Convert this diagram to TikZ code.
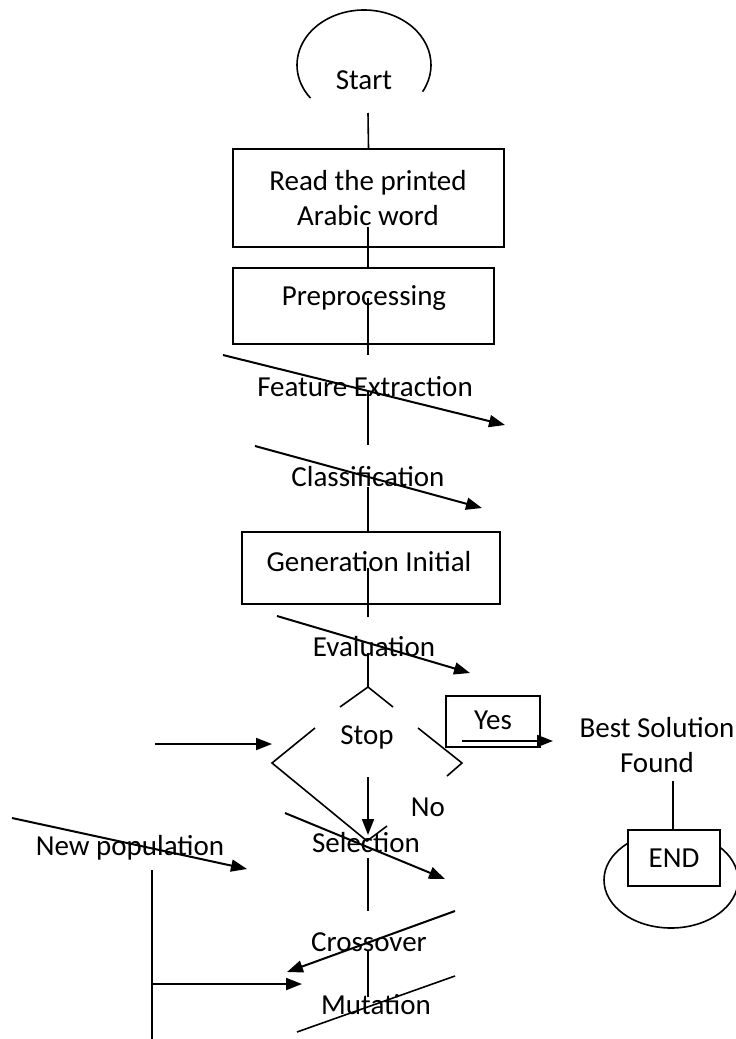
\documentclass[tikz,border=0pt]{standalone}
\usepackage{fontspec}
\setmainfont{Carlito}
\usetikzlibrary{arrows.meta}
\usetikzlibrary{positioning}

\begin{document}
\begin{tikzpicture}[x=1pt,y=-1pt,font=\fontsize{29}{35}\selectfont,
		box/.style={draw,rectangle,line width=1.6pt,fill=white,inner sep=0pt},
		lbl/.style={inner sep=0pt,align=center},
		link/.style={line width=1.6pt},
		flow/.style={line width=2pt,-{Triangle[length=16pt,width=12pt]}}]
		\useasboundingbox (0,0) rectangle (736,1039);

		\draw [link] (364,65) ++(29:67 and 55) arc [start angle=29,end angle=-217,x radius=67,y radius=55];
		\node [lbl] (start) at (364,80) {Start};

		\node [box,minimum width=271pt,minimum height=98pt] (read) at (368.5,198) {};
		\node [lbl] (readtxt) at (368,198) {Read the printed\\Arabic word};
		\node [box,minimum width=261pt,minimum height=76pt] (prep) at (363.5,306) {};
		\node [lbl] (preptxt) at (364,298) {Preprocessing};
		\node [box,minimum width=258pt,minimum height=72pt] (gen) at (371,568) {};
		\node [lbl] (gentxt) at (369,562) {Generation Initial};

		\node [lbl] (feat) at (365,387) {Feature Extraction};
		\node [lbl] (class) at (368,477) {Classification};
		\node [lbl] (eval) at (374,647) {Evaluation};
		\node [lbl] (stop) at (367,737) {Stop};
		\node [lbl] (no) at (428,807) {No};
		\node [box,minimum width=94pt,minimum height=51pt] (yes) at (493,721.5) {};
		\node [lbl] (yestxt) at (493,720) {Yes};
		\node [lbl] (best) at (657,745) {Best Solution\\Found};
		\draw [link] (671,880) ellipse [x radius=67,y radius=48];
		\node [box,minimum width=92pt,minimum height=56pt] (end) at (674,858) {END};
		\node [lbl] (newpop) at (130,848) {New population};
		\node [lbl] (sel) at (366,843) {Selection};
		\node [lbl] (cross) at (369,942) {Crossover};
		\node [lbl] (mut) at (376,1005) {Mutation};

		\coordinate (s1) at (368,113);
		\coordinate (s2) at (368,227);
		\coordinate (s3) at (368,298);
		\coordinate (s4) at (368,355);
		\coordinate (s5) at (368,392);
		\coordinate (s6) at (368,445);
		\coordinate (s7) at (368,487);
		\coordinate (s8) at (368,568);
		\coordinate (s9) at (368,617);
		\coordinate (s10) at (368,653);
		\coordinate (dtop) at (368,687);
		\coordinate (dleft) at (272,763);
		\coordinate (dright) at (462,763);
		\coordinate (dbot) at (367,841);

		\draw [link] (s1) -- (read.north);
		\draw [link] (s2) -- (s2 |- prep.north);
		\draw [link] (s3) -- (s4);
		\draw [link] (s5) -- (s6);
		\draw [link] (s7) -- (s7 |- gen.north);
		\draw [link] (s8) -- (s9);
		\draw [link] (s10) -- (dtop);

		\draw [link] (340,707) -- (dtop) -- (393,707);
		\draw [link] (315,728) -- (dleft) -- (dbot) -- (387,826);
		\draw [link] (418,728) -- (dright) -- (447,776);

		\coordinate (fa) at (223,355);
		\coordinate (fb) at (505,425);
		\coordinate (ca) at (255,446);
		\coordinate (cb) at (482,508);
		\coordinate (ea) at (277,616);
		\coordinate (eb) at (470,673);
		\coordinate (ina) at (155,744);
		\coordinate (inb) at (272,744);
		\coordinate (noa) at (368,777);
		\coordinate (nob) at (368,835);
		\coordinate (ya) at (462,741);
		\coordinate (yb) at (553,741);
		\coordinate (ba) at (673,781);
		\coordinate (npa) at (12,818);
		\coordinate (npb) at (247,869);
		\coordinate (sa) at (285,813);
		\coordinate (sb) at (445,879);
		\coordinate (l1) at (368,858);
		\coordinate (l2) at (368,911);
		\coordinate (xa) at (455,911);
		\coordinate (xb) at (287,972);
		\coordinate (l3) at (368,950);
		\coordinate (l4) at (368,997);
		\coordinate (pa) at (152,870);
		\coordinate (pb) at (152,1039);
		\coordinate (pm) at (152,984);
		\coordinate (pt) at (302,984);
		\coordinate (ma) at (297,1032);
		\coordinate (mb) at (455,976);

		\draw [flow] (fa) -- (fb);
		\draw [flow] (ca) -- (cb);
		\draw [flow] (ea) -- (eb);
		\draw [flow] (ina) -- (inb);
		\draw [flow] (noa) -- (nob);
		\draw [flow] (ya) -- (yb);
		\draw [link] (ba) -- (ba |- end.north);
		\draw [flow] (npa) -- (npb);
		\draw [flow] (sa) -- (sb);
		\draw [link] (l1) -- (l2);
		\draw [flow] (xa) -- (xb);
		\draw [link] (l3) -- (l4);
		\draw [link] (pa) -- (pb);
		\draw [flow] (pm) -- (pt);
		\draw [link] (ma) -- (mb);
	\end{tikzpicture}
\end{document}
